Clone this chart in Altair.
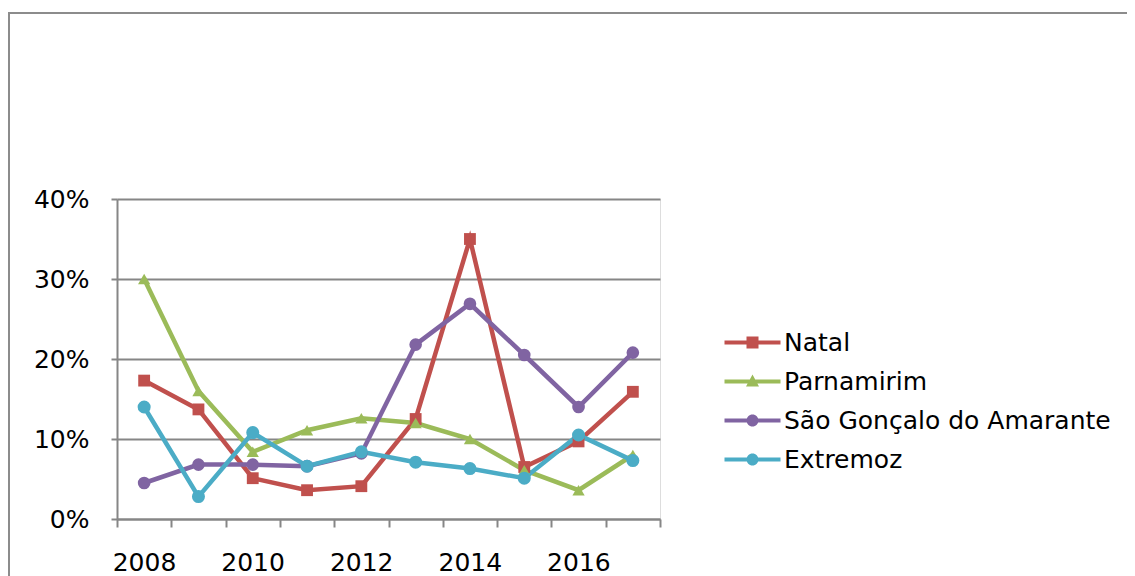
import altair as alt
import pandas as pd

years = [2008, 2009, 2010, 2011, 2012, 2013, 2014, 2015, 2016, 2017]
series_names = ["Natal", "Parnamirim", "São Gonçalo do Amarante", "Extremoz"]
natal = [0.173, 0.137, 0.051, 0.036, 0.041, 0.125, 0.350, 0.065, 0.097, 0.159]
parnamirim = [0.300, 0.160, 0.084, 0.111, 0.126, 0.120, 0.100, 0.061, 0.036, 0.080]
sao_goncalo = [0.045, 0.068, 0.068, 0.066, 0.082, 0.218, 0.269, 0.205, 0.140, 0.208]
extremoz = [0.140, 0.028, 0.108, 0.066, 0.084, 0.071, 0.063, 0.051, 0.105, 0.073]
colors = ["#C0504D", "#9BBB59", "#8064A2", "#4BACC6"]
y_ticks = [0, 0.1, 0.2, 0.3, 0.4]
x_tick_edges = [2007.5 + i for i in range(11)]

rows = []
for name, vals in zip(series_names, [natal, parnamirim, sao_goncalo, extremoz]):
    for yr, v in zip(years, vals):
        rows.append({"year": yr, "value": v, "series": name, "serie": name})
df = pd.DataFrame(rows)

FONT = "DejaVu Sans"
FS = 25
GRAY = "#868686"

x_enc = alt.X("year:Q", scale=alt.Scale(domain=[2007.5, 2017.5], nice=False, zero=False),
              axis=alt.Axis(values=x_tick_edges, title=None, grid=False,
                            labelExpr="(datum.value % 2 == 1.5 && datum.value < 2017) ? toString(datum.value + 0.5) : ''",
                            labelOffset=27, labelFlush=False, labelOverlap=False, labelBound=False,
                            tickSize=8, tickWidth=2, tickColor=GRAY, domainColor=GRAY, domainWidth=2,
                            labelPadding=23, labelFontSize=FS, labelFont=FONT, labelColor="black"))
y_enc = alt.Y("value:Q", scale=alt.Scale(domain=[0, 0.4], nice=False),
              axis=alt.Axis(values=y_ticks, format=".0%", title=None, grid=True,
                            gridColor=GRAY, gridWidth=2, tickSize=6, tickWidth=2, tickColor=GRAY,
                            domainColor=GRAY, domainWidth=2, labelPadding=22,
                            labelFontSize=FS, labelFont=FONT, labelColor="black"))

color_scale = alt.Scale(domain=series_names, range=colors)

lines = alt.Chart(df).mark_line(strokeWidth=4.5).encode(
    x=x_enc, y=y_enc,
    color=alt.Color("series:N", scale=color_scale, legend=None),
)

points = alt.Chart(df).mark_point(filled=True, opacity=1, strokeWidth=0).encode(
    x=x_enc, y=y_enc,
    color=alt.Color("series:N", scale=color_scale, legend=None),
    shape=alt.Shape("series:N", scale=alt.Scale(domain=series_names,
                    range=["square", "triangle-up", "circle", "circle"]), legend=None),
    size=alt.Size("series:N", scale=alt.Scale(domain=series_names, range=[140, 170, 150, 150]), legend=None),
)

line_bar = "M-1,-0.2H4.6V0.2H-1Z "
leg_shapes = [
    line_bar + "M1.2,-0.6H2.4V0.6H1.2Z",
    line_bar + "M1.8,-0.7L2.45,0.5L1.15,0.5Z",
    line_bar + "M1.2,0A0.6,0.6 0 1 1 2.4,0A0.6,0.6 0 1 1 1.2,0Z",
    line_bar + "M1.2,0A0.6,0.6 0 1 1 2.4,0A0.6,0.6 0 1 1 1.2,0Z",
]

legend_layer = alt.Chart(df).transform_filter("datum.year < 0").mark_point(
    filled=True, opacity=1, size=400, strokeWidth=0
).encode(
    x=x_enc, y=y_enc,
    color=alt.Color("serie:N", scale=alt.Scale(domain=series_names, range=colors), title=None,
                    legend=alt.Legend(orient="none", legendX=605, legendY=131, padding=0,
                                      symbolSize=400, symbolOpacity=1, symbolStrokeWidth=0,
                                      labelFontSize=FS, labelFont=FONT, labelColor="black",
                                      labelOffset=37, rowPadding=13, labelLimit=600)),
    shape=alt.Shape("serie:N", scale=alt.Scale(domain=series_names, range=leg_shapes), title=None),
)

frame = alt.Chart(pd.DataFrame({"a": [0]})).mark_rect(fill=None, stroke="#8c8c8c", strokeWidth=2).encode(
    x=alt.value(-108), x2=alt.value(1400), y=alt.value(-186), y2=alt.value(800)
)

chart = alt.layer(frame, lines, points, legend_layer).resolve_scale(
    color="independent", shape="independent", size="independent"
).properties(
    width=543, height=320,
    padding={"left": 109, "top": 191, "right": 467, "bottom": 60},
    autosize=alt.AutoSizeParams(type="none"),
).configure_view(stroke=None).configure(background="white")

chart.save("out.html", embed_options={"renderer": "svg", "actions": False})
